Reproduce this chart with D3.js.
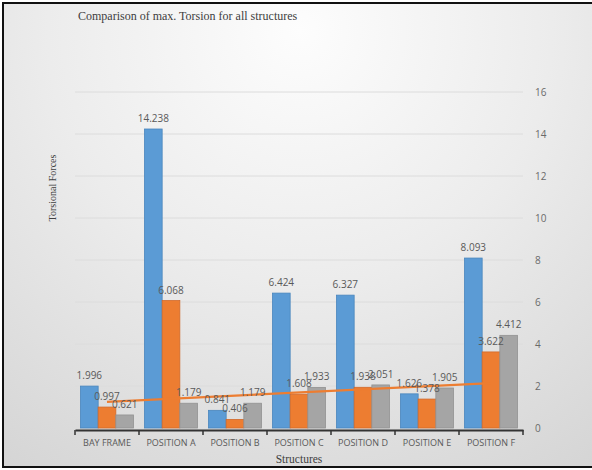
<!DOCTYPE html>
<html>
<head>
<meta charset="utf-8">
<script src="https://cdn.jsdelivr.net/npm/d3@7/dist/d3.min.js"></script>
<style>
  html, body { margin: 0; padding: 0; background: #ffffff; }
  svg { display: block; }
</style>
</head>
<body>
<svg id="chart" width="592" height="470"></svg>
<script>
// Structures compared and the three torsion series per structure
const categories = ["BAY FRAME", "POSITION A", "POSITION B", "POSITION C", "POSITION D", "POSITION E", "POSITION F"];
const seriesNames = ["Series1", "Series2", "Series3"];
const series1 = [1.996, 14.238, 0.841, 6.424, 6.327, 1.626, 8.093];
const series2 = [0.997, 6.068, 0.406, 1.608, 1.938, 1.378, 3.622];
const series3 = [0.621, 1.179, 1.179, 1.933, 2.051, 1.905, 4.412];
// Linear trend line: value at the first and at the last structure
const trendCategories = ["BAY FRAME", "POSITION F"];
const trendValues = [1.24, 2.14];
const yTicks = [0, 2, 4, 6, 8, 10, 12, 14, 16];

const colors = ["#5b9bd5", "#ed7d31", "#a5a5a5"];
const strokes = ["#4a86bd", "#d2692a", "#929292"];

const svg = d3.select("#chart");
const W = 592, H = 470;
const plot = { left: 75, right: 523, top: 92, bottom: 428 };

// Chart-area background: soft radial shading, lighter at the top centre
const defs = svg.append("defs");
const grad = defs.append("radialGradient")
  .attr("id", "bg").attr("gradientUnits", "userSpaceOnUse")
  .attr("cx", 300).attr("cy", 30).attr("r", 560);
grad.append("stop").attr("offset", "0%").attr("stop-color", "#fdfdfd");
grad.append("stop").attr("offset", "45%").attr("stop-color", "#ececec");
grad.append("stop").attr("offset", "100%").attr("stop-color", "#d2d2d2");

svg.append("rect").attr("x", 3).attr("y", 3).attr("width", 600).attr("height", 464)
  .attr("fill", "url(#bg)").attr("stroke", "#111").attr("stroke-width", 2);

const x0 = d3.scaleBand().domain(categories).range([plot.left, plot.right]).paddingInner(0).paddingOuter(0);
const x1 = d3.scaleBand().domain(seriesNames).range([0, x0.bandwidth()]).paddingInner(0).paddingOuter(0.31);
const y = d3.scaleLinear().domain([0, 16]).range([plot.bottom, plot.top]);

// Horizontal gridlines
svg.append("g").selectAll("line").data(yTicks.filter(d => d > 0)).join("line")
  .attr("x1", plot.left).attr("x2", plot.right)
  .attr("y1", d => y(d)).attr("y2", d => y(d))
  .attr("stroke", "#dcdcdc").attr("stroke-width", 1);

// Value axis on the right
const yAxis = d3.axisRight(y).tickValues(yTicks).tickSize(0).tickPadding(12);
const gy = svg.append("g").attr("transform", `translate(${plot.right},0)`).call(yAxis);
gy.select(".domain").remove();
gy.selectAll("text").attr("font-family", "'Open Sans', sans-serif").attr("font-size", 10)
  .attr("fill", "#6a6a6a");

// Bars
const allSeries = [series1, series2, series3];
const rows = [];
allSeries.forEach((vals, si) => {
  vals.forEach((v, ci) => rows.push({ cat: categories[ci], s: seriesNames[si], si, v }));
});

svg.append("g").selectAll("rect").data(rows).join("rect")
  .attr("x", d => x0(d.cat) + x1(d.s))
  .attr("y", d => y(d.v))
  .attr("width", x1.bandwidth())
  .attr("height", d => y(0) - y(d.v))
  .attr("fill", d => colors[d.si])
  .attr("stroke", d => strokes[d.si]).attr("stroke-width", 0.8);

// Trend line
const trendPts = trendCategories.map((c, i) => [x0(c) + x0.bandwidth() / 2, y(trendValues[i])]);
svg.append("path").attr("d", d3.line()(trendPts))
  .attr("fill", "none").attr("stroke", "#ed7d31").attr("stroke-width", 2.2);

// Data labels
svg.append("g").selectAll("text").data(rows).join("text")
  .attr("x", d => x0(d.cat) + x1(d.s) + x1.bandwidth() / 2)
  .attr("y", d => y(d.v) - 7)
  .attr("text-anchor", "middle")
  .attr("font-family", "'Open Sans', sans-serif").attr("font-size", 10)
  .attr("fill", "#595959")
  .text(d => d3.format(".3f")(d.v));

// Category axis
const xAxis = d3.axisBottom(x0).tickSize(0).tickPadding(10);
const gx = svg.append("g").attr("transform", `translate(0,${plot.bottom + 2})`).call(xAxis);
gx.select(".domain").attr("stroke", "#333").attr("stroke-width", 2);
gx.selectAll("text").attr("font-family", "'Open Sans', sans-serif").attr("font-size", 9)
  .attr("fill", "#595959");
// Tick marks at the category boundaries
const bounds = categories.map(c => x0(c)).concat([plot.right]);
svg.append("g").selectAll("line").data(bounds).join("line")
  .attr("x1", d => d).attr("x2", d => d)
  .attr("y1", plot.bottom + 2).attr("y2", plot.bottom + 7)
  .attr("stroke", "#333").attr("stroke-width", 1.5);

// Titles
svg.append("text").attr("x", 78).attr("y", 20)
  .attr("font-family", "'Liberation Serif', 'Times New Roman', serif").attr("font-size", 12)
  .attr("fill", "#404040").text("Comparison of max. Torsion for all structures");

svg.append("text").attr("x", (plot.left + plot.right) / 2).attr("y", 463)
  .attr("text-anchor", "middle")
  .attr("font-family", "'Liberation Serif', 'Times New Roman', serif").attr("font-size", 11.5)
  .attr("fill", "#404040").text("Structures");

svg.append("text").attr("transform", "translate(56,188) rotate(-90)")
  .attr("text-anchor", "middle")
  .attr("font-family", "'Liberation Serif', 'Times New Roman', serif").attr("font-size", 10)
  .attr("fill", "#404040").text("Torsional Forces");
</script>
</body>
</html>
